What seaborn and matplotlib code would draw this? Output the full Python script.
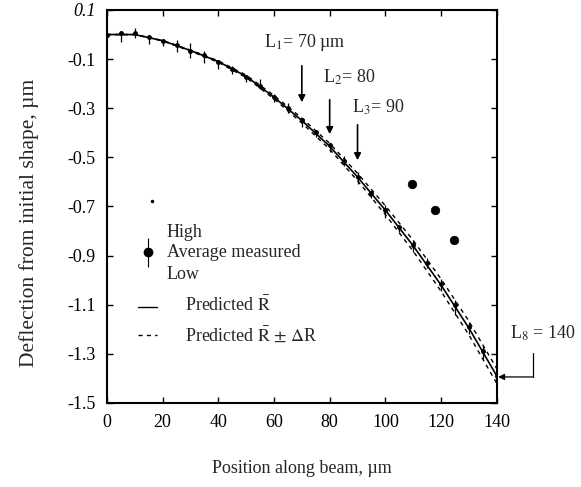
import numpy as np
import pandas as pd
import seaborn as sns
import matplotlib
matplotlib.use("Agg")
import matplotlib.pyplot as plt

# measured averages (every 5 um) with high / low error offsets
pos_meas = [0, 5, 10, 15, 20, 25, 30, 35, 40, 45, 50, 55, 60, 65, 70,
            75, 80, 85, 90, 95, 100, 105, 110, 115, 120, 125, 130, 135, 140]
avg_meas = [0.0, 0.005, 0.005, -0.01, -0.025, -0.043, -0.065, -0.085, -0.112, -0.14,
            -0.173, -0.21, -0.254, -0.30, -0.348, -0.397, -0.45, -0.515, -0.58, -0.645,
            -0.715, -0.785, -0.857, -0.93, -1.015, -1.10, -1.19, -1.29, -1.39]
err_high = [0.005, 0.01, 0.02, 0.01, 0.005, 0.02, 0.03, 0.02, 0.01, 0.01,
            0.01, 0.03, 0.01, 0.02, 0.01, 0.01, 0.01, 0.02, 0.02, 0.01,
            0.02, 0.01, 0.02, 0.02, 0.02, 0.02, 0.02, 0.02, 0.01]
err_low = [0.005, 0.035, 0.02, 0.03, 0.02, 0.03, 0.03, 0.03, 0.03, 0.02,
           0.02, 0.01, 0.02, 0.02, 0.03, 0.02, 0.03, 0.02, 0.03, 0.02,
           0.03, 0.02, 0.03, 0.02, 0.03, 0.04, 0.03, 0.03, 0.02]

# predicted deflection, mean R and R +/- dR
pos_pred = [0, 10, 20, 30, 40, 50, 60, 70, 80, 90, 100, 110, 120, 130, 140]
pred_mean = [0.0, 0.0, -0.025, -0.065, -0.11, -0.17, -0.255, -0.35, -0.455, -0.58,
             -0.715, -0.86, -1.02, -1.195, -1.39]
pred_upper = [0.0, 0.0, -0.024, -0.063, -0.107, -0.165, -0.248, -0.34, -0.443, -0.565,
              -0.697, -0.838, -0.995, -1.167, -1.36]
pred_lower = [0.0, 0.0, -0.026, -0.067, -0.113, -0.175, -0.262, -0.36, -0.467, -0.595,
              -0.733, -0.882, -1.045, -1.223, -1.42]

# three large dots
dot_x = [109.5, 117.7, 124.6]
dot_y = [-0.608, -0.714, -0.836]

# L annotations: (label, position, text x, text y, arrow top y, arrow tip y)
l_labels = ["L$_1$= 70 µm", "L$_2$= 80", "L$_3$= 90"]
l_pos = [70, 80, 90]
l_text_x = [56.5, 77.5, 88.0]
l_text_y = [-0.034, -0.174, -0.296]
l_arrow_top = [-0.116, -0.254, -0.356]
l_arrow_tip = [-0.287, -0.417, -0.523]

x_ticks = [0, 20, 40, 60, 80, 100, 120, 140]
y_ticks = [0.1, -0.1, -0.3, -0.5, -0.7, -0.9, -1.1, -1.3, -1.5]
y_tick_labels = ["0.1", "-0.1", "-0.3", "-0.5", "-0.7", "-0.9", "-1.1", "-1.3", "-1.5"]

sns.set_theme(style="ticks")
plt.rcParams["font.family"] = ["Liberation Serif", "DejaVu Serif"]
plt.rcParams["mathtext.fontset"] = "stix"
fs = 13

fig = plt.figure(figsize=(5.81, 4.87), dpi=100)
ax = fig.add_axes([0.184, 0.1725, 0.671, 0.807])

pred = pd.DataFrame({"pos": pos_pred, "mean": pred_mean,
                     "upper": pred_upper, "lower": pred_lower})
sns.lineplot(data=pred, x="pos", y="mean", color="black", lw=1.2, ax=ax)
sns.lineplot(data=pred, x="pos", y="upper", color="black", lw=1.0, ax=ax,
             linestyle=(0, (3, 3)))
sns.lineplot(data=pred, x="pos", y="lower", color="black", lw=1.0, ax=ax,
             linestyle=(0, (3, 3)))

ax.errorbar(pos_meas, avg_meas, yerr=[err_low, err_high], fmt="o", ms=2.5,
            color="black", elinewidth=0.9, capsize=0)

sns.scatterplot(x=dot_x, y=dot_y, color="black", s=38, edgecolor="black", ax=ax)
ax.plot([16.2], [-0.678], marker="o", ms=1.5, color="black")

for lab, p, tx, ty, a0, a1 in zip(l_labels, l_pos, l_text_x, l_text_y,
                                  l_arrow_top, l_arrow_tip):
    ax.text(tx, ty, lab, fontsize=fs, ha="left", va="center")
    ax.annotate("", xy=(p, a1), xytext=(p, a0),
                arrowprops=dict(arrowstyle="-|>", color="black", lw=1.2,
                                mutation_scale=10))

# L8 bracket outside the axes
ax.text(144.7, -1.215, "L$_8$ = 140", fontsize=fs, ha="left", va="center",
        clip_on=False)
ax.plot([152.9, 152.9], [-1.297, -1.394], color="black", lw=0.9, clip_on=False)
ax.annotate("", xy=(140.5, -1.394), xytext=(152.9, -1.394),
            arrowprops=dict(arrowstyle="-|>", color="black", lw=0.9,
                            mutation_scale=9, shrinkA=0, shrinkB=0),
            annotation_clip=False)

# hand-drawn style legend
ax.errorbar([0.105], [0.384], yerr=[[0.038], [0.036]], fmt="o", ms=6,
            color="black", elinewidth=0.8, transform=ax.transAxes)
ax.text(0.154, 0.433, "High", transform=ax.transAxes, fontsize=fs, va="center")
ax.text(0.154, 0.382, "Average measured", transform=ax.transAxes, fontsize=fs,
        va="center")
ax.text(0.154, 0.326, "Low", transform=ax.transAxes, fontsize=fs, va="center")
ax.plot([0.079, 0.128], [0.244, 0.244], color="black", lw=1.0,
        transform=ax.transAxes)
ax.text(0.2, 0.249, r"Predicted $\bar{\mathrm{R}}$", transform=ax.transAxes,
        fontsize=fs, va="center")
ax.plot([0.079, 0.128], [0.173, 0.173], color="black", lw=1.0,
        linestyle=(0, (3, 3)), transform=ax.transAxes)
ax.text(0.2, 0.173, r"Predicted $\bar{\mathrm{R}}$ $\pm$ $\Delta$R",
        transform=ax.transAxes, fontsize=fs, va="center")

ax.set_xlim(0, 140)
ax.set_ylim(-1.5, 0.1)
ax.set_xticks(x_ticks)
ax.set_yticks(y_ticks)
ax.set_yticklabels(y_tick_labels)
ax.get_yticklabels()[0].set_style("italic")
ax.tick_params(direction="in", length=4, width=1, labelsize=fs,
               top=True, right=True, pad=8, colors="black")
for s in ax.spines.values():
    s.set_visible(True)
    s.set_linewidth(1.5)
    s.set_color("black")

ax.set_xlabel("Position along beam, µm", fontsize=fs)
ax.set_ylabel("Deflection from initial shape, µm", fontsize=15.5)
ax.xaxis.set_label_coords(0.5, -0.145)
ax.yaxis.set_label_coords(-0.175, 0.458)

fig.savefig("out.png", dpi=100)
